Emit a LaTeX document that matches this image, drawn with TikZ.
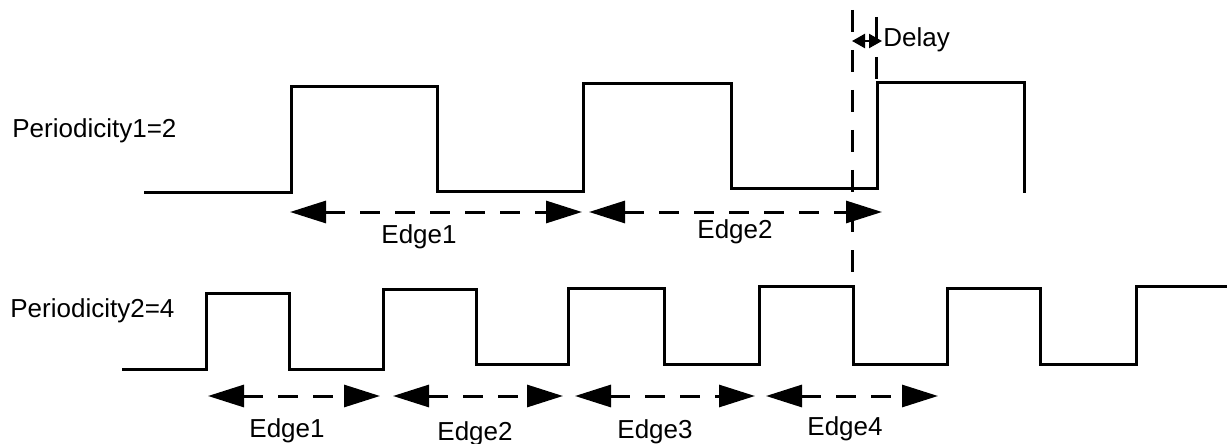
\documentclass[tikz,border=0pt]{standalone}
\usepackage{fontspec}
\setmainfont{Liberation Sans}
\usetikzlibrary{arrows.meta}
\begin{document}
\begin{tikzpicture}[x=0.5pt,y=-0.5pt,
  wave/.style={line width=1.5pt},
  vdash/.style={line width=1.5pt,dash pattern=on 11pt off 9pt},
  edgearrow/.style={line width=1.5pt,dash pattern=on 10pt off 7.5pt,
    {Triangle[length=18pt,width=11pt]}-{Triangle[length=18pt,width=11pt]}},
  delayarrow/.style={line width=1.2pt,
    {Triangle[length=6.5pt,width=7pt]}-{Triangle[length=6.5pt,width=7pt]}},
  lbl/.style={inner sep=0pt,font=\fontsize{13}{15}\selectfont}]
\useasboundingbox (0,0) rectangle (1227,444);

% signal 1
\draw[wave] (144,193) -- (291,193) -- (291,87) -- (437,87) -- (437,192)
  -- (583,192) -- (583,84) -- (731,84) -- (731,189) -- (877,189)
  -- (877,83) -- (1024,83) -- (1024,193);

% signal 2
\draw[wave] (122,369) -- (206,369) -- (206,293) -- (289,293) -- (289,369)
  -- (383,369) -- (383,289) -- (476,289) -- (476,364) -- (568,364)
  -- (568,288) -- (664,288) -- (664,364) -- (759,364) -- (759,286)
  -- (853,286) -- (853,364) -- (947,364) -- (947,288) -- (1040,288)
  -- (1040,364) -- (1136,364) -- (1136,286) -- (1227,286);

% dashed verticals
\coordinate (v1top) at (852,10);
\coordinate (v1bot) at (852,286);
\coordinate (v2top) at (876,17);
\coordinate (v2bot) at (876,83);
\draw[vdash] (v1top) -- (v1bot);
\draw[vdash] (v2top) -- (v2bot);

% delay
\coordinate (d1) at (852,41);
\coordinate (d2) at (882,41);
\draw[delayarrow] (d1) -- (d2);
\node[lbl,anchor=base west] (delay) at (883,47) {Delay};

% labels
\node[lbl,anchor=base west] (p1) at (12,138) {Periodicity1=2};
\node[lbl,anchor=base west] (p2) at (10,317) {Periodicity2=4};

% top edges
\coordinate (a1) at (290,212); \coordinate (a2) at (582,212);
\coordinate (a3) at (589,212); \coordinate (a4) at (882,212);
\draw[edgearrow] (a1) -- (a2);
\draw[edgearrow] (a3) -- (a4);
\node[lbl,anchor=base] (te1) at (419,243) {Edge1};
\node[lbl,anchor=base] (te2) at (735,238) {Edge2};

% bottom edges
\coordinate (b1) at (208,396); \coordinate (b2) at (380,396);
\coordinate (b3) at (393,396); \coordinate (b4) at (563,396);
\coordinate (b5) at (575,396); \coordinate (b6) at (755,396);
\coordinate (b7) at (766,396); \coordinate (b8) at (938,396);
\draw[edgearrow] (b1) -- (b2);
\draw[edgearrow] (b3) -- (b4);
\draw[edgearrow] (b5) -- (b6);
\draw[edgearrow] (b7) -- (b8);
\node[lbl,anchor=base] (be1) at (287,437) {Edge1};
\node[lbl,anchor=base] (be2) at (475,440) {Edge2};
\node[lbl,anchor=base] (be3) at (655,438) {Edge3};
\node[lbl,anchor=base] (be4) at (845,435) {Edge4};
\end{tikzpicture}
\end{document}
